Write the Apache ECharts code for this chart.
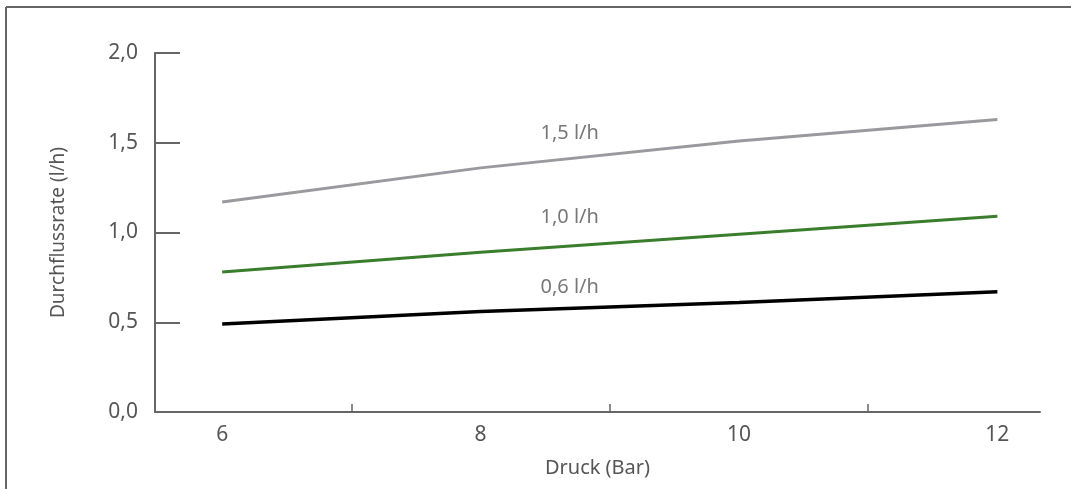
<!DOCTYPE html>
<html><head><meta charset="utf-8">
<script src="https://cdn.jsdelivr.net/npm/echarts@6/dist/echarts.min.js"></script>
<style>html,body{margin:0;padding:0;background:#fff}#c{width:1071px;height:489px}</style>
</head><body><div id="c"></div>
<script>
const pressure = [6, 8, 10, 12];
const flow15 = [1.17, 1.36, 1.51, 1.63];
const flow10 = [0.78, 0.89, 0.99, 1.09];
const flow06 = [0.49, 0.56, 0.61, 0.67];
const seriesNames = ['1,5 l/h', '1,0 l/h', '0,6 l/h'];
const labelPos = [[8.69, 1.554], [8.69, 1.086], [8.69, 0.696]];
const xLabels = [6, 8, 10, 12];
const xTicks = [7, 9, 11];
const yTicks = [0, 0.5, 1, 1.5, 2];

const font = '"Noto Sans", "Open Sans", sans-serif';
const chart = echarts.init(document.getElementById('c'), null, {renderer: 'canvas'});
const mk = (arr) => pressure.map((p, i) => [p, arr[i]]);
chart.setOption({
  animation: false,
  graphic: [
    {type: 'line', shape: {x1: 6, y1: 7, x2: 1071, y2: 7}, style: {stroke: '#666', lineWidth: 2}},
    {type: 'line', shape: {x1: 6, y1: 7, x2: 6, y2: 489}, style: {stroke: '#666', lineWidth: 2}}
  ],
  grid: {left: 155, right: 31, top: 53, bottom: 77},
  xAxis: {
    type: 'value', min: 5.48, max: 12.33,
    name: 'Druck (Bar)', nameLocation: 'middle', nameGap: 46,
    nameTextStyle: {fontFamily: font, fontSize: 20, color: '#555'},
    axisLine: {show: true, lineStyle: {color: '#666', width: 2}},
    axisTick: {show: true, inside: true, length: 8, customValues: xTicks, lineStyle: {color: '#666', width: 1.5}},
    axisLabel: {customValues: xLabels, margin: 13, fontFamily: font, fontSize: 21, color: '#555'},
    splitLine: {show: false}
  },
  yAxis: {
    type: 'value', min: 0, max: 2,
    name: 'Durchflussrate (l/h)', nameLocation: 'middle', nameGap: 87,
    nameTextStyle: {fontFamily: font, fontSize: 19, color: '#555'},
    axisLine: {show: true, lineStyle: {color: '#666', width: 2}},
    axisTick: {show: true, inside: true, length: 25, customValues: yTicks, lineStyle: {color: '#666', width: 2}},
    axisLabel: {customValues: yTicks, margin: 17, fontFamily: font, fontSize: 21, color: '#555',
      formatter: v => v.toFixed(1).replace('.', ',')},
    splitLine: {show: false}
  },
  series: [
    {type: 'line', data: mk(flow15), symbol: 'none', lineStyle: {color: '#9a9a9e', width: 3}},
    {type: 'line', data: mk(flow10), symbol: 'none', lineStyle: {color: '#3a7d2c', width: 3}},
    {type: 'line', data: mk(flow06), symbol: 'none', lineStyle: {color: '#000', width: 3.5}},
    {type: 'scatter', symbolSize: 0, silent: true,
      data: labelPos.map((p, i) => ({value: p, name: seriesNames[i]})),
      label: {show: true, position: 'inside', formatter: p => p.name, fontFamily: font, fontSize: 20, color: '#555'}}
  ]
});
</script></body></html>
